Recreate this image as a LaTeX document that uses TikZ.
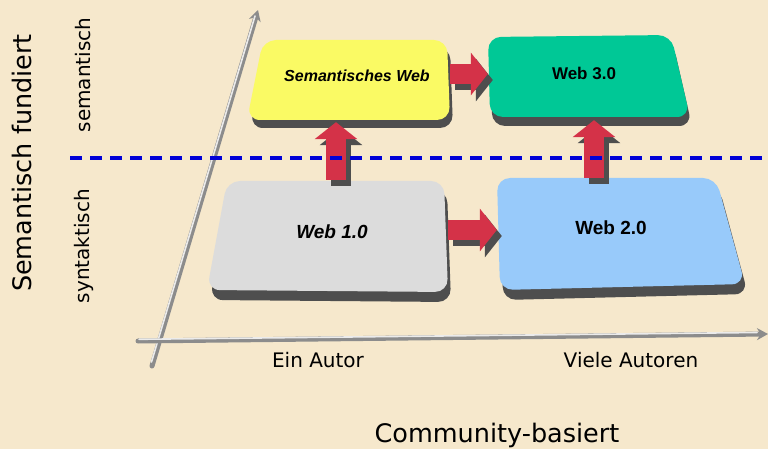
\documentclass[tikz,border=0pt]{standalone}
\usepackage{fontspec}
\setmainfont{DejaVu Sans}
\newfontfamily\boxfont{Liberation Sans}
\usetikzlibrary{arrows.meta}
\definecolor{bgcol}{RGB}{246,232,204}
\definecolor{ybox}{RGB}{250,250,100}
\definecolor{gbox}{RGB}{0,200,150}
\definecolor{lbox}{RGB}{220,220,220}
\definecolor{bbox}{RGB}{152,202,250}
\definecolor{arrcol}{RGB}{212,50,72}
\definecolor{shad}{RGB}{78,78,78}
\definecolor{sepblue}{RGB}{0,0,215}
\definecolor{axcol}{RGB}{140,140,140}
\definecolor{axlight}{RGB}{235,235,235}
\begin{document}
\begin{tikzpicture}[x=1pt,y=-1pt,
  area/.style={draw=none,inner sep=0pt,rectangle},
  boxshape/.style={rounded corners=13pt},
  redarrow/.style={draw=arrcol,line width=20pt,-{Triangle[length=17pt,width=42pt]}},
  shadarrow/.style={draw=shad,line width=20pt,-{Triangle[length=17pt,width=42pt]},transform canvas={shift={(5,6)}}},
  axisline/.style={draw=axcol,line width=5pt,line cap=round,-{Stealth[length=11pt,width=12pt]}},
  axislight/.style={draw=axlight,line width=1.6pt,line cap=round},
  sepline/.style={draw=sepblue,line width=3.5pt,dash pattern=on 12pt off 8pt},
  boxtext/.style={font=\boxfont\bfseries\itshape},
  boxtextup/.style={font=\boxfont\bfseries},
  bigtext/.style={font=\fontsize{25.5}{30}\selectfont},
  smalltext/.style={font=\fontsize{20}{24}\selectfont}]
\fill[bgcol] (0,0) rectangle (768,449);
\useasboundingbox (0,0) rectangle (768,449);
% axes
\coordinate (vb) at (152,366);
\coordinate (vt) at (258,10);
\coordinate (hl) at (138,341);
\coordinate (hr) at (768,334);
\draw[axisline] (vb) -- (vt);
\draw[axislight] (151.5,362) -- (255,16);
\draw[axisline] (hl) -- (hr);
\draw[axislight] (139,339.3) -- (757,332.5);
% box regions (invisible nodes)
\node[area,minimum width=203pt,minimum height=80pt] (sw) at (348.5,80) {};
\node[area,minimum width=202pt,minimum height=83pt] (w3) at (589,76.5) {};
\node[area,minimum width=241pt,minimum height=112pt] (w1) at (327.5,236) {};
\node[area,minimum width=250pt,minimum height=114pt] (w2) at (620,235) {};
% box shadows
\fill[shad,boxshape] (266,47) -- (450,47) -- (453,128) -- (250,128) -- cycle;
\fill[shad,boxshape] (491,45) -- (673,43) -- (692,126) -- (492,126) -- cycle;
\fill[shad,boxshape] (230,190) -- (447,190) -- (451,302) -- (210,300) -- cycle;
\fill[shad,boxshape] (500,187) -- (719,187) -- (748,294) -- (503,300) -- cycle;
% boxes
\fill[ybox,boxshape] (263,40) -- (447,40) -- (450,120) -- (247,120) -- cycle;
\fill[gbox,boxshape] (488,37) -- (671,35) -- (690,117) -- (490,117) -- cycle;
\fill[lbox,boxshape] (227,181) -- (444,181) -- (448,292) -- (207,290) -- cycle;
\fill[bbox,boxshape] (497,178) -- (716,178) -- (745,284) -- (500,290) -- cycle;
% arrow shadows
\draw[shadarrow] ([yshift=6pt]sw.east) -- ([yshift=2.5pt]w3.west);
\draw[shadarrow] ([xshift=8.5pt]w1.north) -- ([xshift=-12.5pt,yshift=-2pt]sw.south);
\draw[shadarrow] ([yshift=6pt]w1.east) -- ([yshift=5pt,xshift=2pt]w2.west);
\draw[shadarrow] ([xshift=-26pt]w2.north) -- ([xshift=5pt,yshift=-2pt]w3.south);
% arrows
\draw[redarrow] ([yshift=6pt]sw.east) -- ([yshift=2.5pt]w3.west);
\draw[redarrow] ([xshift=8.5pt]w1.north) -- ([xshift=-12.5pt,yshift=-2pt]sw.south);
\draw[redarrow] ([yshift=6pt]w1.east) -- ([yshift=5pt,xshift=2pt]w2.west);
\draw[redarrow] ([xshift=-26pt]w2.north) -- ([xshift=5pt,yshift=-2pt]w3.south);
% box texts
\node[boxtext,font=\boxfont\bfseries\itshape\fontsize{16}{18}\selectfont] (swt) at (357,76) {Semantisches Web};
\node[boxtextup,font=\boxfont\bfseries\fontsize{17}{19}\selectfont] (w3t) at (584,73) {Web 3.0};
\node[boxtext,font=\boxfont\bfseries\itshape\fontsize{19}{21}\selectfont] (w1t) at (332,232) {Web 1.0};
\node[boxtextup,font=\boxfont\bfseries\fontsize{19}{21}\selectfont] (w2t) at (611,228) {Web 2.0};
% separator
\coordinate (sl) at (70,158);
\coordinate (sr) at (768,158);
\draw[sepline] (sl) -- (sr);
% labels
\node[bigtext,rotate=90] (ylab) at (22,163) {Semantisch fundiert};
\node[smalltext,rotate=90] (sem) at (83,75) {semantisch};
\node[smalltext,rotate=90] (syn) at (84,246) {syntaktisch};
\node[smalltext] (ein) at (318,360) {Ein Autor};
\node[smalltext] (viele) at (631,360) {Viele Autoren};
\node[bigtext] (xlab) at (497,435) {Community-basiert};
\end{tikzpicture}
\end{document}
